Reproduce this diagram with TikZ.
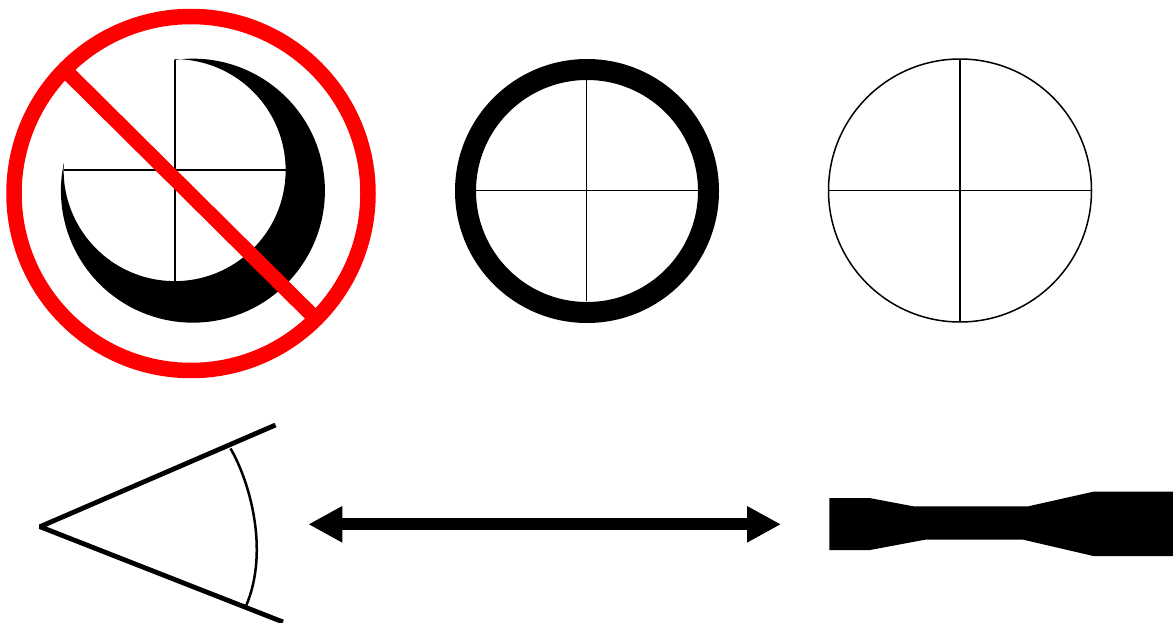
\documentclass[tikz,border=0pt]{standalone}
\usetikzlibrary{arrows.meta}
\definecolor{banred}{RGB}{255,0,0}
\tikzset{
  hair/.style={draw=black,line width=1.5pt},
  banline/.style={draw=banred,line width=15.5pt},
  fanline/.style={draw=black,line width=4.8pt,line cap=butt,line join=bevel},
  bigarrow/.style={draw=black,line width=12pt,{Triangle[length=34pt,width=34pt]}-{Triangle[length=34pt,width=34pt]},shorten <=0pt,shorten >=0pt}
}
\begin{document}
\begin{tikzpicture}[x=1pt,y=-1pt]
\useasboundingbox (0,0) rectangle (1173,623);
\fill[white] (0,0) rectangle (1173,623);
% crossed-out crescent
\fill[black] (175,59.9) arc[start angle=-97.8,end angle=192.2,radius=132]
  arc[start angle=-176.2,end angle=-450,radius=111] -- cycle;
\coordinate (mL) at (64,170); \coordinate (mR) at (286,170);
\coordinate (mT) at (175,60); \coordinate (mB) at (175,281);
\draw[hair] (mL) -- (mR);
\draw[hair] (mT) -- (mB);
\coordinate (banA) at (67,72); \coordinate (banB) at (315,318);
\draw[banline,line width=15pt] (banA) -- (banB);
\draw[banline] (191,193.5) circle[radius=177];
% thick ring
\draw[black,line width=21pt] (587,191) circle[radius=121.5];
\coordinate (tL) at (476,190.3); \coordinate (tR) at (698,190.3);
\coordinate (tT) at (586.7,80); \coordinate (tB) at (586.7,301);
\draw[hair] (tL) -- (tR);
\draw[hair] (tT) -- (tB);
% thin ring
\draw[hair] (960,190.5) circle[radius=131.5];
\coordinate (sL) at (828.5,190.3); \coordinate (sR) at (1091.5,190.3);
\coordinate (sT) at (960,59); \coordinate (sB) at (960,322);
\draw[hair] (sL) -- (sR);
\draw[hair] (sT) -- (sB);
% fan
\coordinate (v) at (40,526.7); \coordinate (fU) at (275.5,425); \coordinate (fD) at (283,622);
\draw[fanline] (fU) -- (v) -- (fD);
\coordinate (aU) at (230.5,448.5); \coordinate (aD) at (246,606);
\draw[black,line width=2.5pt] (aU) .. controls (249,480) and (270,550) .. (aD);
% double arrow
\coordinate (arL) at (308.3,524.3); \coordinate (arR) at (781,524.3);
\draw[bigarrow] (arL) -- (arR);
% bar
\fill[black] (829.3,498) -- (869.3,498) -- (913.3,506.3) -- (1028.3,506.3) -- (1093.3,491.7)
  -- (1173,491.7) -- (1173,556) -- (1093.3,556) -- (1023.3,539.7) -- (925,539.7)
  -- (870,550) -- (829.3,550) -- cycle;
\end{tikzpicture}
\end{document}
